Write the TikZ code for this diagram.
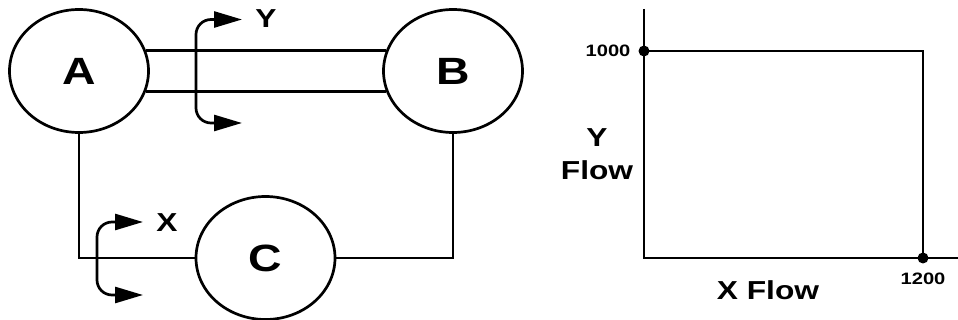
\documentclass[tikz,border=0pt]{standalone}
\usepackage{fontspec}
\setmainfont{Liberation Sans}[FakeStretch=1.22]
\usetikzlibrary{arrows.meta,shapes.geometric,positioning}

\tikzset{
  station/.style={draw=black, ellipse, line width=2.7pt, inner sep=0pt,
    minimum width=139pt, minimum height=123pt,
    font=\fontsize{38}{40}\selectfont\bfseries},
  pipe/.style={line width=2.7pt},
  split/.style={line width=2.7pt, rounded corners=15pt,
    {Triangle[length=28pt,width=16pt]}-{Triangle[length=28pt,width=16pt]}},
  flowlabel/.style={font=\fontsize{26}{33}\selectfont\bfseries, inner sep=0pt, align=center},
  ticklabel/.style={font=\fontsize{16.5}{18}\selectfont\bfseries, inner sep=0pt}
}

\begin{document}
\begin{tikzpicture}[x=1pt,y=-1pt]
  \useasboundingbox (0,0) rectangle (958,320);
  % stations
  \node[station] (A) at (79,71) {A};
  \node[station] (B) at (453,71) {B};
  \node[station] (C) at (265.5,258) {C};
  % pipes
  \draw[pipe] (A.17) -- (B.163);
  \draw[pipe] (A.-17) -- (B.197);
  \draw[pipe] (A.south) |- (C.west);
  \draw[pipe] (B.south) |- (C.east);
  % split of the Y flow
  \coordinate (ytop) at (242,19.5);
  \coordinate (ymid) at (196,71);
  \coordinate (ybot) at (242,123);
  \draw[split] (ytop) -| (ymid) |- (ybot);
  \node[flowlabel] (ylab) at (266,19) {Y};
  % split of the X flow
  \coordinate (xtop) at (143,222);
  \coordinate (xmid) at (97,258);
  \coordinate (xbot) at (143,295);
  \draw[split] (xtop) -| (xmid) |- (xbot);
  \node[flowlabel] (xlab) at (167,223) {X};
  % plot
  \coordinate (origin) at (644,258);
  \coordinate (yend) at (644,9);
  \coordinate (xend) at (958,258);
  \coordinate (p1000) at (644,51);
  \coordinate (p1200) at (923,258);
  \draw[pipe] (yend) -- (origin) -- (xend);
  \draw[pipe] (p1000) -| (p1200);
  \fill (p1000) circle (5.5);
  \fill (p1200) circle (5.5);
  \node[ticklabel] (l1000) at (608,51) {1000};
  \node[ticklabel] (l1200) at (923,279) {1200};
  \node[flowlabel] (yflow) at (597,154) {Y\\Flow};
  \node[flowlabel] (xflow) at (768,290) {X Flow};
\end{tikzpicture}
\end{document}
